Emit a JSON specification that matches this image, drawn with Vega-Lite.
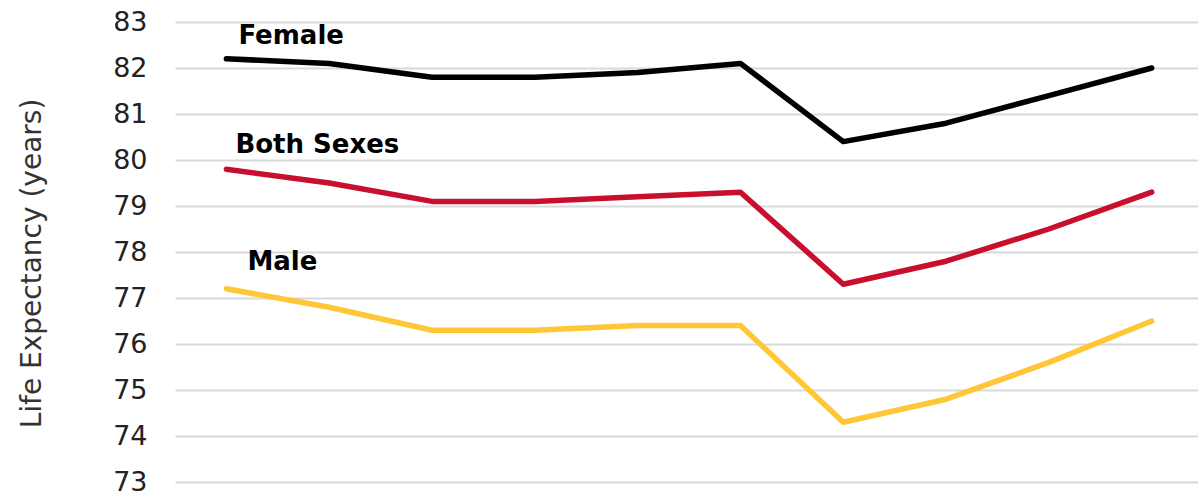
{
  "$schema": "https://vega.github.io/schema/vega-lite/v6.json",
  "autosize": {"type": "none"},
  "width": 1023,
  "height": 460,
  "padding": {"left": 175, "top": 22, "right": 0, "bottom": 14},
  "background": "white",
  "config": {"view": {"stroke": null}, "font": "DejaVu Sans"},
  "datasets": {
    "series": [
      {"year": 2014, "sex": "Female", "value": 82.2},
      {"year": 2015, "sex": "Female", "value": 82.1},
      {"year": 2016, "sex": "Female", "value": 81.8},
      {"year": 2017, "sex": "Female", "value": 81.8},
      {"year": 2018, "sex": "Female", "value": 81.9},
      {"year": 2019, "sex": "Female", "value": 82.1},
      {"year": 2020, "sex": "Female", "value": 80.4},
      {"year": 2021, "sex": "Female", "value": 80.8},
      {"year": 2022, "sex": "Female", "value": 81.4},
      {"year": 2023, "sex": "Female", "value": 82.0},
      {"year": 2014, "sex": "Both Sexes", "value": 79.8},
      {"year": 2015, "sex": "Both Sexes", "value": 79.5},
      {"year": 2016, "sex": "Both Sexes", "value": 79.1},
      {"year": 2017, "sex": "Both Sexes", "value": 79.1},
      {"year": 2018, "sex": "Both Sexes", "value": 79.2},
      {"year": 2019, "sex": "Both Sexes", "value": 79.3},
      {"year": 2020, "sex": "Both Sexes", "value": 77.3},
      {"year": 2021, "sex": "Both Sexes", "value": 77.8},
      {"year": 2022, "sex": "Both Sexes", "value": 78.5},
      {"year": 2023, "sex": "Both Sexes", "value": 79.3},
      {"year": 2014, "sex": "Male", "value": 77.2},
      {"year": 2015, "sex": "Male", "value": 76.8},
      {"year": 2016, "sex": "Male", "value": 76.3},
      {"year": 2017, "sex": "Male", "value": 76.3},
      {"year": 2018, "sex": "Male", "value": 76.4},
      {"year": 2019, "sex": "Male", "value": 76.4},
      {"year": 2020, "sex": "Male", "value": 74.3},
      {"year": 2021, "sex": "Male", "value": 74.8},
      {"year": 2022, "sex": "Male", "value": 75.6},
      {"year": 2023, "sex": "Male", "value": 76.5}
    ],
    "labels": [
      {"year": 2014, "sex": "Female", "value": 82.69},
      {"year": 2014, "sex": "Both Sexes", "value": 80.32},
      {"year": 2014, "sex": "Male", "value": 77.78}
    ]
  },
  "encoding": {
    "x": {
      "field": "year",
      "type": "quantitative",
      "scale": {"domain": [2013.5, 2023.45], "zero": false, "nice": false},
      "axis": null
    },
    "y": {
      "field": "value",
      "type": "quantitative",
      "scale": {"domain": [73, 83], "zero": false, "nice": false},
      "axis": {
        "title": "Life Expectancy (years)",
        "titleFontSize": 28,
        "titleFontWeight": "normal",
        "titleColor": "#333333",
        "titlePadding": 66,
        "titleY": 241,
        "values": [73, 74, 75, 76, 77, 78, 79, 80, 81, 82, 83],
        "labelFontSize": 27,
        "labelColor": "#222222",
        "labelPadding": 28,
        "domain": false,
        "ticks": false,
        "grid": true,
        "gridColor": "#d9d9d9",
        "gridWidth": 2
      }
    }
  },
  "layer": [
    {
      "data": {"name": "series"},
      "mark": {"type": "line", "strokeWidth": 5.5, "strokeCap": "round", "strokeJoin": "round"},
      "encoding": {
        "color": {
          "field": "sex",
          "type": "nominal",
          "scale": {"domain": ["Female", "Both Sexes", "Male"], "range": ["#000000", "#c8102e", "#ffc636"]},
          "legend": null
        }
      }
    },
    {
      "data": {"name": "labels"},
      "transform": [{"filter": "datum.sex === 'Female'"}],
      "mark": {"type": "text", "align": "left", "baseline": "middle", "dx": 12, "fontSize": 26, "fontWeight": "bold", "color": "#000000"},
      "encoding": {"text": {"field": "sex"}}
    },
    {
      "data": {"name": "labels"},
      "transform": [{"filter": "datum.sex === 'Both Sexes'"}],
      "mark": {"type": "text", "align": "left", "baseline": "middle", "dx": 9, "fontSize": 26, "fontWeight": "bold", "color": "#000000"},
      "encoding": {"text": {"field": "sex"}}
    },
    {
      "data": {"name": "labels"},
      "transform": [{"filter": "datum.sex === 'Male'"}],
      "mark": {"type": "text", "align": "left", "baseline": "middle", "dx": 21, "fontSize": 26, "fontWeight": "bold", "color": "#000000"},
      "encoding": {"text": {"field": "sex"}}
    }
  ]
}
